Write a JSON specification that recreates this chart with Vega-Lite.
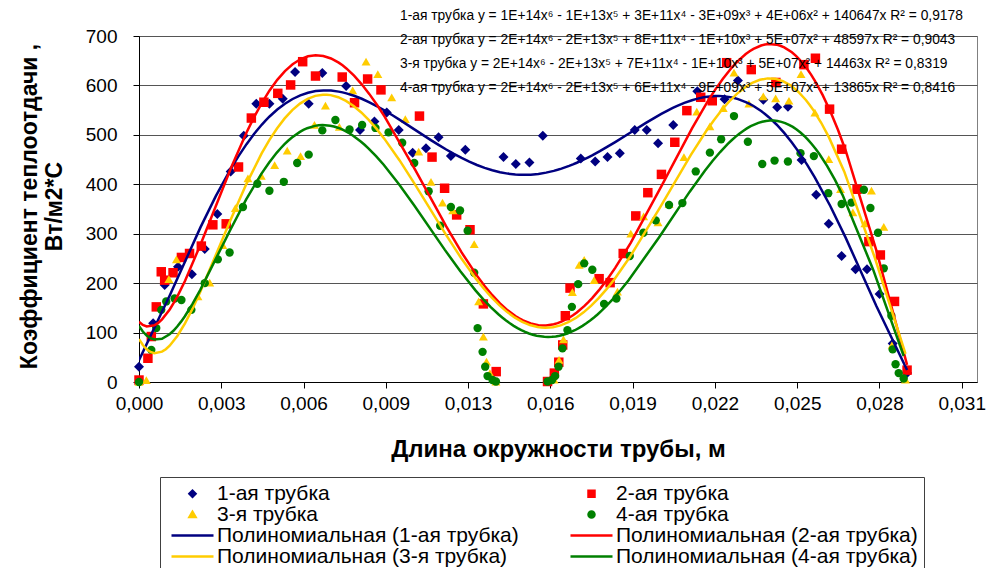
{
  "$schema": "https://vega.github.io/schema/vega-lite/v6.json",
  "width": 838,
  "height": 346,
  "autosize": "none",
  "padding": {"left": 139, "top": 36, "right": 13, "bottom": 186},
  "background": "white",
  "config": {
    "font": "Liberation Sans",
    "view": {"stroke": "#808080", "strokeWidth": 1},
    "legend": {
      "orient": "none",
      "legendX": 21,
      "legendY": 441,
      "columns": 2,
      "direction": "horizontal",
      "labelFontSize": 21,
      "labelFont": "Liberation Sans",
      "labelColor": "#000000",
      "labelLimit": 600,
      "symbolSize": 36,
      "symbolStrokeWidth": 2.5,
      "symbolOpacity": 1,
      "symbolOffset": 16,
      "labelOffset": 14,
      "columnPadding": 46,
      "rowPadding": -3,
      "padding": 6,
      "strokeColor": "#404040",
      "fillColor": "#ffffff"
    }
  },
  "title": {
    "text": [
      "1-ая трубка y = 1E+14x⁶ - 1E+13x⁵ + 3E+11x⁴ - 3E+09x³ + 4E+06x² + 140647x R² = 0,9178",
      "2-ая трубка y = 2E+14x⁶ - 2E+13x⁵ + 8E+11x⁴ - 1E+10x³ + 5E+07x² + 48597x R² = 0,9043",
      "3-я трубка y = 2E+14x⁶ - 2E+13x⁵ + 7E+11x⁴ - 1E+10x³ + 5E+07x² + 14463x R² = 0,8319",
      "4-ая трубка y = 2E+14x⁶ - 2E+13x⁵ + 6E+11x⁴ - 9E+09x³ + 5E+07x² + 13865x R² = 0,8416"
    ],
    "anchor": "start",
    "align": "left",
    "frame": "group",
    "offset": 0,
    "dx": 261,
    "dy": 68,
    "fontSize": 13.8,
    "fontWeight": "normal",
    "lineHeight": 24,
    "color": "#000000",
    "font": "Liberation Sans"
  },
  "datasets": {
    "fits": [
      {"s": "1-ая трубка", "f": "Полиномиальная (1-ая трубка)"},
      {"s": "2-ая трубка", "f": "Полиномиальная (2-ая трубка)"},
      {"s": "3-я трубка", "f": "Полиномиальная (3-я трубка)"},
      {"s": "4-ая трубка", "f": "Полиномиальная (4-ая трубка)"}
    ],
    "pts": [
      {"s": "1-ая трубка", "x": 0.0, "y": 31},
      {"s": "1-ая трубка", "x": 0.00054, "y": 119},
      {"s": "1-ая трубка", "x": 0.00098, "y": 196},
      {"s": "1-ая трубка", "x": 0.00149, "y": 233},
      {"s": "1-ая трубка", "x": 0.00202, "y": 218},
      {"s": "1-ая трубка", "x": 0.00251, "y": 269},
      {"s": "1-ая трубка", "x": 0.00299, "y": 340},
      {"s": "1-ая трубка", "x": 0.0035, "y": 426},
      {"s": "1-ая трубка", "x": 0.004, "y": 498},
      {"s": "1-ая трубка", "x": 0.00448, "y": 563},
      {"s": "1-ая трубка", "x": 0.00498, "y": 563},
      {"s": "1-ая трубка", "x": 0.00549, "y": 573},
      {"s": "1-ая трубка", "x": 0.00596, "y": 627},
      {"s": "1-ая трубка", "x": 0.00648, "y": 563},
      {"s": "1-ая трубка", "x": 0.007, "y": 625},
      {"s": "1-ая трубка", "x": 0.00791, "y": 599},
      {"s": "1-ая трубка", "x": 0.00844, "y": 510},
      {"s": "1-ая трубка", "x": 0.00899, "y": 527},
      {"s": "1-ая трубка", "x": 0.00946, "y": 545},
      {"s": "1-ая трубка", "x": 0.00992, "y": 510},
      {"s": "1-ая трубка", "x": 0.01045, "y": 464},
      {"s": "1-ая трубка", "x": 0.01096, "y": 473},
      {"s": "1-ая трубка", "x": 0.01144, "y": 495},
      {"s": "1-ая трубка", "x": 0.01191, "y": 457},
      {"s": "1-ая трубка", "x": 0.01246, "y": 470},
      {"s": "1-ая трубка", "x": 0.01392, "y": 455},
      {"s": "1-ая трубка", "x": 0.01439, "y": 441},
      {"s": "1-ая трубка", "x": 0.01491, "y": 444},
      {"s": "1-ая трубка", "x": 0.01542, "y": 498},
      {"s": "1-ая трубка", "x": 0.01687, "y": 452},
      {"s": "1-ая трубка", "x": 0.01742, "y": 446},
      {"s": "1-ая трубка", "x": 0.01789, "y": 455},
      {"s": "1-ая трубка", "x": 0.01836, "y": 463},
      {"s": "1-ая трубка", "x": 0.01893, "y": 510},
      {"s": "1-ая трубка", "x": 0.01939, "y": 510},
      {"s": "1-ая трубка", "x": 0.01982, "y": 483},
      {"s": "1-ая трубка", "x": 0.0204, "y": 520},
      {"s": "1-ая трубка", "x": 0.02132, "y": 588},
      {"s": "1-ая трубка", "x": 0.02236, "y": 572},
      {"s": "1-ая трубка", "x": 0.02287, "y": 610},
      {"s": "1-ая трубка", "x": 0.02384, "y": 571},
      {"s": "1-ая трубка", "x": 0.02437, "y": 556},
      {"s": "1-ая трубка", "x": 0.02478, "y": 557},
      {"s": "1-ая трубка", "x": 0.0253, "y": 449},
      {"s": "1-ая трубка", "x": 0.02586, "y": 379},
      {"s": "1-ая трубка", "x": 0.02634, "y": 320},
      {"s": "1-ая трубка", "x": 0.02683, "y": 255},
      {"s": "1-ая трубка", "x": 0.02736, "y": 228},
      {"s": "1-ая трубка", "x": 0.0278, "y": 228},
      {"s": "1-ая трубка", "x": 0.02828, "y": 178},
      {"s": "1-ая трубка", "x": 0.02878, "y": 78},
      {"s": "1-ая трубка", "x": 0.02933, "y": 18},
      {"s": "2-ая трубка", "x": 0.0, "y": 4},
      {"s": "2-ая трубка", "x": 0.00034, "y": 48},
      {"s": "2-ая трубка", "x": 0.00047, "y": 92},
      {"s": "2-ая трубка", "x": 0.00066, "y": 152},
      {"s": "2-ая трубка", "x": 0.00085, "y": 223},
      {"s": "2-ая трубка", "x": 0.00098, "y": 206},
      {"s": "2-ая трубка", "x": 0.0013, "y": 221},
      {"s": "2-ая трубка", "x": 0.00162, "y": 252},
      {"s": "2-ая трубка", "x": 0.00193, "y": 260},
      {"s": "2-ая трубка", "x": 0.00238, "y": 275},
      {"s": "2-ая трубка", "x": 0.00282, "y": 318},
      {"s": "2-ая трубка", "x": 0.00333, "y": 320},
      {"s": "2-ая трубка", "x": 0.0038, "y": 435},
      {"s": "2-ая трубка", "x": 0.00429, "y": 534},
      {"s": "2-ая трубка", "x": 0.00477, "y": 566},
      {"s": "2-ая трубка", "x": 0.0053, "y": 584},
      {"s": "2-ая трубка", "x": 0.00579, "y": 601},
      {"s": "2-ая трубка", "x": 0.00625, "y": 648},
      {"s": "2-ая трубка", "x": 0.00674, "y": 619},
      {"s": "2-ая трубка", "x": 0.00776, "y": 617},
      {"s": "2-ая трубка", "x": 0.00823, "y": 565},
      {"s": "2-ая трубка", "x": 0.00873, "y": 613},
      {"s": "2-ая трубка", "x": 0.00924, "y": 591},
      {"s": "2-ая трубка", "x": 0.01071, "y": 538},
      {"s": "2-ая трубка", "x": 0.01119, "y": 455},
      {"s": "2-ая трубка", "x": 0.01167, "y": 392},
      {"s": "2-ая трубка", "x": 0.01213, "y": 338},
      {"s": "2-ая трубка", "x": 0.01264, "y": 308},
      {"s": "2-ая трубка", "x": 0.01315, "y": 158},
      {"s": "2-ая трубка", "x": 0.01364, "y": 21},
      {"s": "2-ая трубка", "x": 0.0156, "y": 1},
      {"s": "2-ая трубка", "x": 0.01586, "y": 18},
      {"s": "2-ая трубка", "x": 0.01603, "y": 40},
      {"s": "2-ая трубка", "x": 0.01618, "y": 75},
      {"s": "2-ая трубка", "x": 0.01628, "y": 134},
      {"s": "2-ая трубка", "x": 0.01646, "y": 190},
      {"s": "2-ая трубка", "x": 0.01757, "y": 209},
      {"s": "2-ая трубка", "x": 0.01799, "y": 201},
      {"s": "2-ая трубка", "x": 0.01849, "y": 260},
      {"s": "2-ая трубка", "x": 0.01897, "y": 336},
      {"s": "2-ая трубка", "x": 0.01943, "y": 383},
      {"s": "2-ая трубка", "x": 0.01995, "y": 420},
      {"s": "2-ая трубка", "x": 0.02046, "y": 485},
      {"s": "2-ая трубка", "x": 0.02092, "y": 549},
      {"s": "2-ая трубка", "x": 0.02145, "y": 576},
      {"s": "2-ая трубка", "x": 0.02189, "y": 569},
      {"s": "2-ая трубка", "x": 0.02244, "y": 646},
      {"s": "2-ая трубка", "x": 0.02338, "y": 632},
      {"s": "2-ая трубка", "x": 0.02432, "y": 606},
      {"s": "2-ая трубка", "x": 0.02539, "y": 642},
      {"s": "2-ая трубка", "x": 0.02583, "y": 655},
      {"s": "2-ая трубка", "x": 0.02637, "y": 552},
      {"s": "2-ая трубка", "x": 0.02683, "y": 471},
      {"s": "2-ая трубка", "x": 0.02742, "y": 390},
      {"s": "2-ая трубка", "x": 0.02787, "y": 284},
      {"s": "2-ая трубка", "x": 0.02831, "y": 257},
      {"s": "2-ая трубка", "x": 0.02885, "y": 163},
      {"s": "2-ая трубка", "x": 0.02933, "y": 24},
      {"s": "3-я трубка", "x": 0.0, "y": 0},
      {"s": "3-я трубка", "x": 0.00028, "y": 4},
      {"s": "3-я трубка", "x": 0.00114, "y": 208},
      {"s": "3-я трубка", "x": 0.00143, "y": 248},
      {"s": "3-я трубка", "x": 0.00225, "y": 173},
      {"s": "3-я трубка", "x": 0.0027, "y": 201},
      {"s": "3-я трубка", "x": 0.0032, "y": 277},
      {"s": "3-я трубка", "x": 0.00368, "y": 352},
      {"s": "3-я трубка", "x": 0.00416, "y": 412},
      {"s": "3-я трубка", "x": 0.00467, "y": 417},
      {"s": "3-я трубка", "x": 0.00518, "y": 439},
      {"s": "3-я трубка", "x": 0.00566, "y": 468},
      {"s": "3-я трубка", "x": 0.00617, "y": 457},
      {"s": "3-я трубка", "x": 0.0067, "y": 520},
      {"s": "3-я трубка", "x": 0.00712, "y": 559},
      {"s": "3-я трубка", "x": 0.00765, "y": 516},
      {"s": "3-я трубка", "x": 0.00816, "y": 590},
      {"s": "3-я трубка", "x": 0.00867, "y": 648},
      {"s": "3-я трубка", "x": 0.00912, "y": 623},
      {"s": "3-я трубка", "x": 0.00965, "y": 576},
      {"s": "3-я трубка", "x": 0.01017, "y": 532},
      {"s": "3-я трубка", "x": 0.01068, "y": 466},
      {"s": "3-я трубка", "x": 0.01115, "y": 405},
      {"s": "3-я трубка", "x": 0.01159, "y": 363},
      {"s": "3-я трубка", "x": 0.01198, "y": 347},
      {"s": "3-я трубка", "x": 0.0128, "y": 279},
      {"s": "3-я трубка", "x": 0.01297, "y": 163},
      {"s": "3-я трубка", "x": 0.01315, "y": 92},
      {"s": "3-я трубка", "x": 0.01327, "y": 41},
      {"s": "3-я трубка", "x": 0.0134, "y": 18},
      {"s": "3-я трубка", "x": 0.01363, "y": 1},
      {"s": "3-я трубка", "x": 0.01585, "y": 5},
      {"s": "3-я трубка", "x": 0.01604, "y": 45},
      {"s": "3-я трубка", "x": 0.01621, "y": 86},
      {"s": "3-я трубка", "x": 0.01655, "y": 182},
      {"s": "3-я трубка", "x": 0.01681, "y": 237},
      {"s": "3-я трубка", "x": 0.017, "y": 247},
      {"s": "3-я трубка", "x": 0.01738, "y": 206},
      {"s": "3-я трубка", "x": 0.01827, "y": 183},
      {"s": "3-я трубка", "x": 0.01878, "y": 300},
      {"s": "3-я трубка", "x": 0.01927, "y": 335},
      {"s": "3-я трубка", "x": 0.01982, "y": 323},
      {"s": "3-я трубка", "x": 0.02024, "y": 360},
      {"s": "3-я трубка", "x": 0.02081, "y": 455},
      {"s": "3-я трубка", "x": 0.0213, "y": 547},
      {"s": "3-я трубка", "x": 0.0218, "y": 517},
      {"s": "3-я трубка", "x": 0.02231, "y": 554},
      {"s": "3-я трубка", "x": 0.02272, "y": 626},
      {"s": "3-я трубка", "x": 0.02329, "y": 563},
      {"s": "3-я трубка", "x": 0.02384, "y": 578},
      {"s": "3-я трубка", "x": 0.02431, "y": 574},
      {"s": "3-я трубка", "x": 0.02482, "y": 569},
      {"s": "3-я трубка", "x": 0.02528, "y": 623},
      {"s": "3-я трубка", "x": 0.02581, "y": 545},
      {"s": "3-я трубка", "x": 0.02634, "y": 451},
      {"s": "3-я трубка", "x": 0.02679, "y": 390},
      {"s": "3-я трубка", "x": 0.02726, "y": 343},
      {"s": "3-я трубка", "x": 0.02772, "y": 321},
      {"s": "3-я трубка", "x": 0.02797, "y": 387},
      {"s": "3-я трубка", "x": 0.02844, "y": 314},
      {"s": "3-я трубка", "x": 0.02876, "y": 75},
      {"s": "3-я трубка", "x": 0.02927, "y": 5},
      {"s": "4-ая трубка", "x": 0.0, "y": 0},
      {"s": "4-ая трубка", "x": 0.00047, "y": 65},
      {"s": "4-ая трубка", "x": 0.00066, "y": 109},
      {"s": "4-ая трубка", "x": 0.00085, "y": 146},
      {"s": "4-ая трубка", "x": 0.00104, "y": 163},
      {"s": "4-ая трубка", "x": 0.00136, "y": 169},
      {"s": "4-ая трубка", "x": 0.00162, "y": 166},
      {"s": "4-ая трубка", "x": 0.002, "y": 146},
      {"s": "4-ая трубка", "x": 0.00251, "y": 200},
      {"s": "4-ая трубка", "x": 0.00301, "y": 248},
      {"s": "4-ая трубка", "x": 0.00346, "y": 262},
      {"s": "4-ая трубка", "x": 0.00397, "y": 354},
      {"s": "4-ая трубка", "x": 0.00452, "y": 401},
      {"s": "4-ая трубка", "x": 0.00498, "y": 387},
      {"s": "4-ая трубка", "x": 0.00553, "y": 405},
      {"s": "4-ая трубка", "x": 0.00604, "y": 443},
      {"s": "4-ая трубка", "x": 0.00648, "y": 460},
      {"s": "4-ая трубка", "x": 0.007, "y": 509},
      {"s": "4-ая трубка", "x": 0.0075, "y": 530},
      {"s": "4-ая трубка", "x": 0.00804, "y": 511},
      {"s": "4-ая трубка", "x": 0.00852, "y": 520},
      {"s": "4-ая трубка", "x": 0.00903, "y": 514},
      {"s": "4-ая трубка", "x": 0.00953, "y": 505},
      {"s": "4-ая трубка", "x": 0.01005, "y": 484},
      {"s": "4-ая трубка", "x": 0.01051, "y": 443},
      {"s": "4-ая трубка", "x": 0.01106, "y": 386},
      {"s": "4-ая трубка", "x": 0.0115, "y": 316},
      {"s": "4-ая трубка", "x": 0.01191, "y": 354},
      {"s": "4-ая трубка", "x": 0.01226, "y": 347},
      {"s": "4-ая трубка", "x": 0.01255, "y": 306},
      {"s": "4-ая трубка", "x": 0.0128, "y": 221},
      {"s": "4-ая трубка", "x": 0.01293, "y": 109},
      {"s": "4-ая трубка", "x": 0.01312, "y": 61},
      {"s": "4-ая трубка", "x": 0.01322, "y": 31},
      {"s": "4-ая трубка", "x": 0.01331, "y": 12},
      {"s": "4-ая трубка", "x": 0.0135, "y": 4},
      {"s": "4-ая трубка", "x": 0.01363, "y": 1},
      {"s": "4-ая трубка", "x": 0.0156, "y": 1},
      {"s": "4-ая трубка", "x": 0.01577, "y": 4},
      {"s": "4-ая трубка", "x": 0.01589, "y": 12},
      {"s": "4-ая трубка", "x": 0.01602, "y": 31},
      {"s": "4-ая трубка", "x": 0.01617, "y": 68},
      {"s": "4-ая трубка", "x": 0.01636, "y": 105},
      {"s": "4-ая трубка", "x": 0.01653, "y": 152},
      {"s": "4-ая трубка", "x": 0.01677, "y": 198},
      {"s": "4-ая трубка", "x": 0.017, "y": 240},
      {"s": "4-ая трубка", "x": 0.01731, "y": 227},
      {"s": "4-ая трубка", "x": 0.01776, "y": 158},
      {"s": "4-ая трубка", "x": 0.01823, "y": 169},
      {"s": "4-ая трубка", "x": 0.01874, "y": 255},
      {"s": "4-ая трубка", "x": 0.01926, "y": 302},
      {"s": "4-ая трубка", "x": 0.01973, "y": 327},
      {"s": "4-ая трубка", "x": 0.02024, "y": 358},
      {"s": "4-ая трубка", "x": 0.02075, "y": 362},
      {"s": "4-ая трубка", "x": 0.02126, "y": 426},
      {"s": "4-ая трубка", "x": 0.0218, "y": 464},
      {"s": "4-ая трубка", "x": 0.02223, "y": 491},
      {"s": "4-ая трубка", "x": 0.02272, "y": 538},
      {"s": "4-ая трубка", "x": 0.02325, "y": 486},
      {"s": "4-ая трубка", "x": 0.0238, "y": 441},
      {"s": "4-ая трубка", "x": 0.02427, "y": 448},
      {"s": "4-ая трубка", "x": 0.02478, "y": 446},
      {"s": "4-ая трубка", "x": 0.02526, "y": 463},
      {"s": "4-ая трубка", "x": 0.02577, "y": 457},
      {"s": "4-ая трубка", "x": 0.02632, "y": 382},
      {"s": "4-ая трубка", "x": 0.02683, "y": 360},
      {"s": "4-ая трубка", "x": 0.02721, "y": 363},
      {"s": "4-ая трубка", "x": 0.02768, "y": 389},
      {"s": "4-ая трубка", "x": 0.02793, "y": 352},
      {"s": "4-ая трубка", "x": 0.02822, "y": 302},
      {"s": "4-ая трубка", "x": 0.02844, "y": 230},
      {"s": "4-ая трубка", "x": 0.02873, "y": 134},
      {"s": "4-ая трубка", "x": 0.02878, "y": 66},
      {"s": "4-ая трубка", "x": 0.02889, "y": 36},
      {"s": "4-ая трубка", "x": 0.02901, "y": 18},
      {"s": "4-ая трубка", "x": 0.0292, "y": 7}
    ]
  },
  "data": {"name": "pts"},
  "encoding": {
    "x": {
      "field": "x",
      "type": "quantitative",
      "scale": {"domain": [0, 0.032], "nice": false, "zero": false},
      "axis": {
        "title": "Длина окружности трубы, м",
        "values": [0, 0.0031416, 0.0062832, 0.0094248, 0.0125664, 0.015708, 0.0188496, 0.0219911, 0.0251327, 0.0282743, 0.0314159],
        "labelExpr": "replace(format(datum.value, '.3f'), '.', ',')",
        "grid": false,
        "labelFontSize": 19,
        "labelColor": "#000000",
        "labelFlush": false,
        "labelOverlap": false,
        "tickSize": 6,
        "tickColor": "#000000",
        "domainColor": "#000000",
        "labelPadding": 6,
        "titleFontSize": 24,
        "titleFontWeight": "bold",
        "titleColor": "#000000",
        "titlePadding": 24
      }
    },
    "y": {
      "field": "y",
      "type": "quantitative",
      "scale": {"domain": [0, 700], "nice": false},
      "axis": {
        "title": ["Коэффициент теплоотдачи ,", "Вт/м2*С"],
        "values": [0, 100, 200, 300, 400, 500, 600, 700],
        "grid": true,
        "gridColor": "#555555",
        "gridWidth": 1,
        "labelFontSize": 19,
        "labelColor": "#000000",
        "labelFlush": false,
        "tickSize": 6,
        "tickColor": "#000000",
        "domainColor": "#000000",
        "labelPadding": 16,
        "titleFontSize": 23,
        "titleFontWeight": "bold",
        "titleColor": "#000000",
        "titleLineHeight": 25,
        "titleBaseline": "middle",
        "titleAlign": "center",
        "titleX": -110,
        "titleY": 170
      }
    }
  },
  "layer": [
    {
      "mark": {"type": "point", "filled": true, "opacity": 1, "strokeWidth": 0},
      "encoding": {
        "color": {
          "field": "s",
          "type": "nominal",
          "scale": {
            "domain": ["1-ая трубка", "2-ая трубка", "3-я трубка", "4-ая трубка", "Полиномиальная (1-ая трубка)", "Полиномиальная (2-ая трубка)", "Полиномиальная (3-я трубка)", "Полиномиальная (4-ая трубка)"],
            "range": ["#000080", "#FF0000", "#FFCC00", "#008000", "#000080", "#FF0000", "#FFCC00", "#008000"]
          },
          "legend": {"title": null}
        },
        "shape": {
          "field": "s",
          "type": "nominal",
          "scale": {
            "domain": ["1-ая трубка", "2-ая трубка", "3-я трубка", "4-ая трубка", "Полиномиальная (1-ая трубка)", "Полиномиальная (2-ая трубка)", "Полиномиальная (3-я трубка)", "Полиномиальная (4-ая трубка)"],
            "range": ["diamond", "square", "triangle-up", "circle", "M-7,0H7", "M-7,0H7", "M-7,0H7", "M-7,0H7"]
          },
          "legend": {"title": null}
        },
        "size": {
          "field": "s",
          "type": "nominal",
          "scale": {
            "domain": ["1-ая трубка", "2-ая трубка", "3-я трубка", "4-ая трубка"],
            "range": [100, 70, 90, 70]
          },
          "legend": null
        }
      }
    },
    {
      "transform": [
        {"regression": "y", "on": "x", "groupby": ["s"], "method": "poly", "order": 6},
        {"lookup": "s", "from": {"data": {"name": "fits"}, "key": "s", "fields": ["f"]}}
      ],
      "mark": {"type": "line", "strokeWidth": 2.5, "clip": true},
      "encoding": {
        "color": {"field": "f", "type": "nominal"}
      }
    }
  ]
}
